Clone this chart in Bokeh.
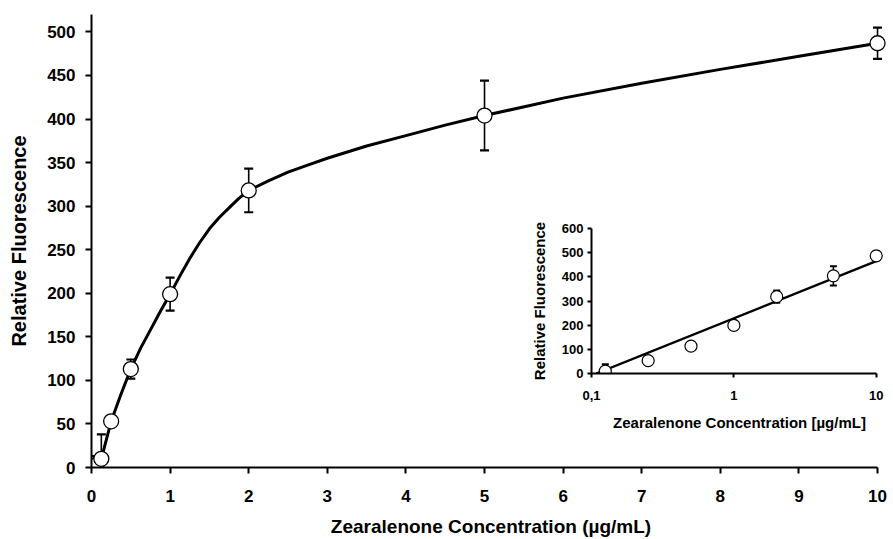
from bokeh.plotting import figure
from bokeh.models import Range1d, FixedTicker, ColumnDataSource, Whisker, TeeHead
from bokeh.layouts import column
from bokeh.embed import file_html
from bokeh.resources import INLINE

# ---- data ----
conc = [0.0625, 0.125, 0.25, 0.5, 1, 2, 5, 10]          # µg/mL
fluor = [3, 10, 53, 113, 199, 318, 404, 487]            # relative fluorescence
err = [10, 28, 5, 11, 19, 25, 40, 18]                   # error bar half-length

# smooth curve through the points
curve_x = [0.0625, 0.125, 0.25, 0.375, 0.5, 0.625, 0.75, 0.875, 1.0, 1.125, 1.25,
           1.375, 1.5, 1.625, 1.75, 1.875, 2.0, 2.25, 2.5, 2.75,
           3.0, 3.5, 4.0, 4.5, 5.0, 6.0, 7.0, 8.0, 9.0, 10.0]
curve_y = [3, 10, 53, 84, 113, 137, 158, 179, 199, 220, 240,
           258, 274, 287, 298, 309, 318, 329, 339, 347,
           355, 369, 381, 393, 404, 424, 441, 457, 472, 487]

# inset: linear fit on log scale (end points)
fit_x = [0.108, 10]
fit_y = [0, 465]

main_xticks = [0, 1, 2, 3, 4, 5, 6, 7, 8, 9, 10]
main_yticks = [0, 50, 100, 150, 200, 250, 300, 350, 400, 450, 500]
inset_xticks = [0.1, 1, 10]
inset_xlabels = ["0,1", "1", "10"]
inset_yticks = [0, 100, 200, 300, 400, 500, 600]

FONT = "Liberation Sans"

lower = [v - e for v, e in zip(fluor, err)]
upper = [v + e for v, e in zip(fluor, err)]
src = ColumnDataSource(dict(x=conc, y=fluor, lower=lower, upper=upper))
src_in = ColumnDataSource(dict(x=conc[1:], y=fluor[1:], lower=lower[1:], upper=upper[1:]))


def style_axis(ax, tick_size, title_size, tick_out, standoff, label_standoff, lw):
    ax.axis_line_color = "black"
    ax.axis_line_width = lw
    ax.major_tick_line_color = "black"
    ax.major_tick_line_width = lw
    ax.major_tick_out = tick_out
    ax.major_tick_in = 0
    ax.minor_tick_line_color = None
    ax.major_label_text_font = FONT
    ax.major_label_text_font_style = "bold"
    ax.major_label_text_font_size = f"{tick_size}px"
    ax.major_label_text_color = "black"
    ax.major_label_standoff = standoff
    ax.axis_label_text_font = FONT
    ax.axis_label_text_font_style = "bold"
    ax.axis_label_text_font_size = f"{title_size}px"
    ax.axis_label_text_color = "black"
    ax.axis_label_standoff = label_standoff


# ---- main plot ----
p = figure(width=893, height=539, x_range=Range1d(0, 10.165), y_range=Range1d(0, 520),
           output_backend="svg", toolbar_location=None,
           min_border_left=91, min_border_right=0, min_border_top=14, min_border_bottom=70)
p.grid.visible = False
p.outline_line_color = None
p.background_fill_color = "white"

p.xaxis.ticker = FixedTicker(ticks=main_xticks)
p.yaxis.ticker = FixedTicker(ticks=main_yticks)
p.xaxis.bounds = (0, 10)
p.xaxis.axis_label = "Zearalenone Concentration (µg/mL)"
p.yaxis.axis_label = "Relative Fluorescence"
style_axis(p.xaxis[0], 17, 19, 6, 16, 11, 2)
style_axis(p.yaxis[0], 17, 20, 6, 10, 14, 2)

p.add_layout(Whisker(base="x", upper="upper", lower="lower", source=src,
                     line_color="black", line_width=1.6,
                     upper_head=TeeHead(size=9, line_color="black", line_width=2.2),
                     lower_head=TeeHead(size=9, line_color="black", line_width=2.2)))
p.line(curve_x, curve_y, line_color="black", line_width=3, line_join="round")
p.scatter("x", "y", source=src, marker="circle", size=15, fill_color="white",
          line_color="black", line_width=1.3)

# ---- inset ----
ins = figure(width=390, height=224, x_axis_type="log",
             x_range=Range1d(0.1, 12), y_range=Range1d(0, 600),
             output_backend="svg", toolbar_location=None,
             min_border_left=90, min_border_right=3, min_border_top=13, min_border_bottom=66,
             styles={"position": "absolute", "left": "500px", "top": "215px"})
ins.grid.visible = False
ins.outline_line_color = None
ins.background_fill_alpha = 0
ins.border_fill_alpha = 0

ins.xaxis.ticker = FixedTicker(ticks=inset_xticks)
ins.xaxis.major_label_overrides = {t: l for t, l in zip(inset_xticks, inset_xlabels)}
ins.yaxis.ticker = FixedTicker(ticks=inset_yticks)
ins.xaxis.bounds = (0.1, 10)
ins.xaxis.axis_label = "Zearalenone Concentration [µg/mL]"
ins.yaxis.axis_label = "Relative Fluorescence"
style_axis(ins.xaxis[0], 13, 15, 4, 13, 11, 2)
style_axis(ins.yaxis[0], 13, 15, 4, 4, 11, 2)

ins.add_layout(Whisker(base="x", upper="upper", lower="lower", source=src_in,
                       line_color="black", line_width=1.5,
                       upper_head=TeeHead(size=7, line_color="black", line_width=2),
                       lower_head=TeeHead(size=7, line_color="black", line_width=2)))
ins.line(fit_x, fit_y, line_color="black", line_width=2.4)
ins.scatter("x", "y", source=src_in, marker="circle", size=12, fill_color="white",
            line_color="black", line_width=1.2)

layout = column(p, ins, styles={"position": "relative"})

with open("out.html", "w") as f:
    f.write(file_html(layout, INLINE))
